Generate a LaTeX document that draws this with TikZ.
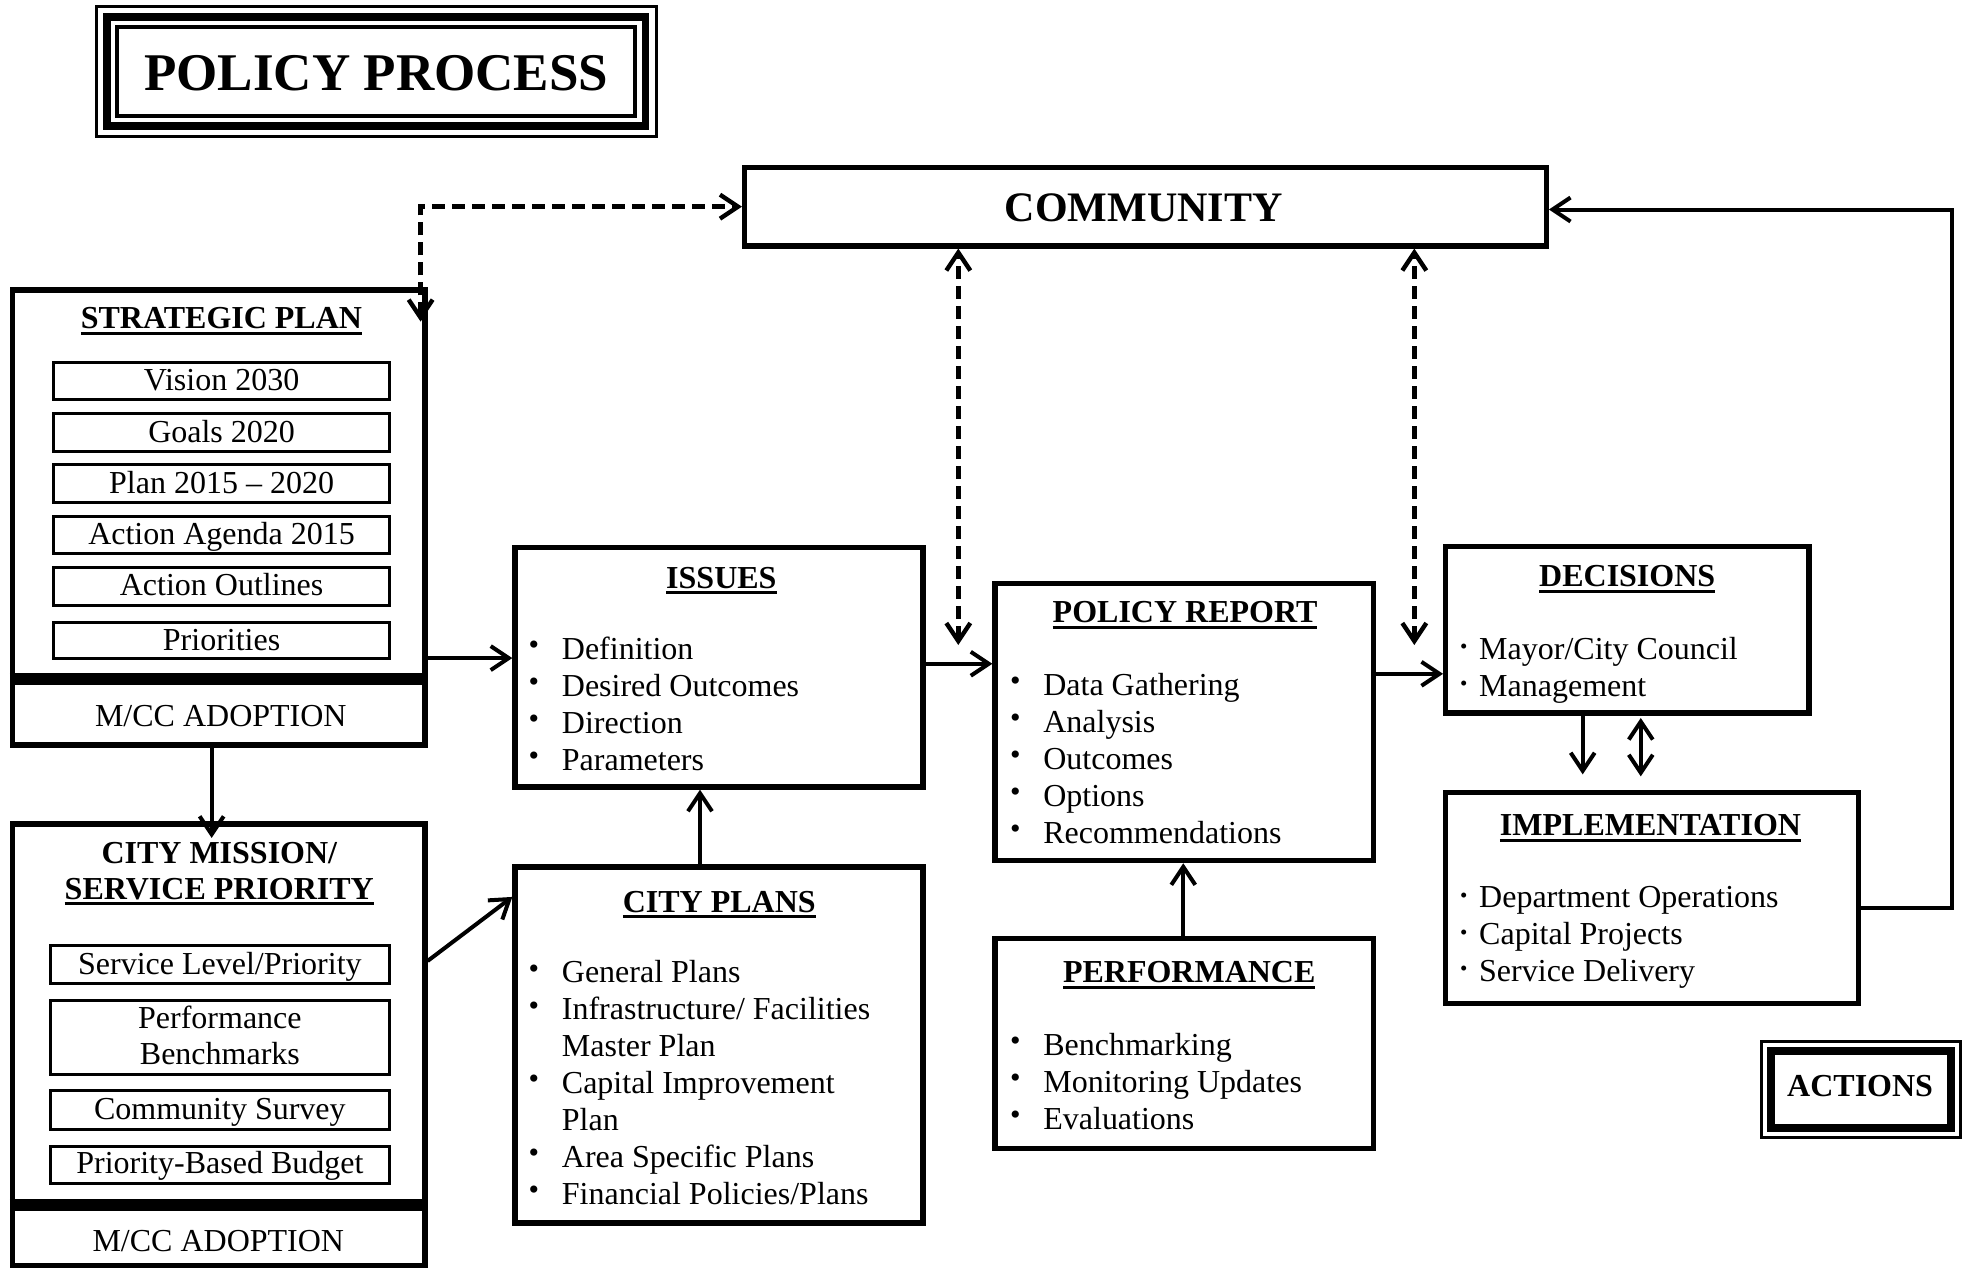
\documentclass[tikz,border=0pt]{standalone}
\usepackage{fontspec}
\setmainfont{Liberation Serif}
\usetikzlibrary{arrows.meta,fit}

% underlined heading text
\newcommand\ulin[1]{\setbox0\hbox{#1}\rlap{\rule[-3.1pt]{\wd0}{1.5pt}}\box0}
% list bullets: a larger one and a small raised one
\newcommand\bulA{\raisebox{2.4pt}{\fontsize{15}{15}\selectfont •}}
\newcommand\bulB{\raisebox{2.8pt}{\fontsize{10.5}{11}\selectfont •}}
\newcommand\bi{\makebox[14pt][l]{\makebox[0pt][c]{\bulA}}}
\newcommand\bn{\makebox[14pt][l]{}}
\newcommand\bk{\makebox[7.7pt][l]{\makebox[0pt][c]{\bulB}}}

\begin{document}
\begin{tikzpicture}[x=0.62916pt, y=-0.62916pt,
  frame/.style={draw, line width=2.7pt, inner sep=0pt},
  subframe/.style={draw, line width=1.5pt, inner sep=0pt},
  body/.style={inner sep=0pt, font=\fontsize{16}{18.45}\selectfont},
  head/.style={inner sep=0pt, font=\fontsize{16}{18.45}\selectfont\bfseries},
  tip/.style={Straight Barb[length=9pt,width=12pt]},
  arr/.style={line width=2pt, -{Straight Barb[length=9pt,width=12pt]}},
  dblarr/.style={line width=2pt, {Straight Barb[length=9pt,width=12pt]}-{Straight Barb[length=9pt,width=12pt]}},
  dasharr/.style={line width=2.2pt, dash pattern=on 6.5pt off 3.5pt,
    {Straight Barb[length=9pt,width=12pt]}-{Straight Barb[length=9pt,width=12pt]}}]
\useasboundingbox (0,0) rectangle (1568,1009);

\newcommand\itembox[5]{%
  \node[subframe, fit={(\bxA,#2) (\bxB,#3)}] (#1) {};
  \node[body, anchor=base] (#1T) at (#1.center |- 0,#4) {#5};}

% ---- heading frame
\node[fit={(76.7,5.2) (521.4,108.6)}, draw, line width=1.5pt, inner sep=0pt] (ttlOuter) {};
\draw[line width=3.8pt] (85.0,13.5) rectangle (513.1,100.3);
\draw[line width=2pt] (93.2,21.7) rectangle (504.9,92.1);
\node[anchor=base, inner sep=0pt, font=\fontsize{26.5}{30}\selectfont\bfseries] (ttl) at (299,72) {POLICY PROCESS};

% ---- community
\node[frame, fit={(591.8,133.1) (1228.8,195.4)}] (comm) {};
\node[anchor=base, inner sep=0pt, font=\fontsize{21}{24}\selectfont\bfseries] (commT) at (908.9,176.2) {COMMUNITY};

% ---- strategic plan
\node[frame, fit={(10,230.5) (337.7,539.6)}] (strat) {};
\node[frame, fit={(10,539.6) (337.7,592)}] (mccA) {};
\draw[line width=6pt] (7.9,539.6) -- (339.8,539.6);
\node[head, anchor=base] (stratH) at (176,261) {\ulin{STRATEGIC PLAN}};
\def\bxA{42.7}\def\bxB{309.5}
\itembox{vision}{287.8}{317.5}{310}{Vision 2030}
\itembox{goals}{328.4}{358.6}{351.8}{Goals 2020}
\itembox{plan}{368.9}{399.1}{392.1}{Plan 2015 – 2020}
\itembox{agenda}{410.2}{439.9}{433.1}{Action Agenda 2015}
\itembox{outlines}{450.7}{481}{472.9}{Action Outlines}
\itembox{prio}{494.5}{523.7}{516.6}{Priorities}
\node[body, anchor=base] (mccAT) at (175.5,577.5) {M/CC ADOPTION};

% ---- city mission / service priority
\node[frame, fit={(10,654.9) (337.7,957.3)}] (cm) {};
\node[frame, fit={(10,957.3) (337.7,1005.7)}] (mccB) {};
\draw[line width=6pt] (7.9,957.3) -- (339.8,957.3);
\node[head, anchor=base] (cmH1) at (174.3,686) {CITY MISSION/};
\node[head, anchor=base] (cmH2) at (174.3,714.6) {\ulin{SERVICE PRIORITY}};
\def\bxA{40}\def\bxB{309.5}
\itembox{slp}{751.1}{781.4}{774.5}{Service Level/Priority}
\itembox{pbm}{794.8}{853.8}{817.4}{\begin{tabular}[t]{@{}c@{}}Performance\\[-0.6pt]Benchmarks\end{tabular}}
\itembox{csurvey}{866.9}{897.5}{889.8}{Community Survey}
\itembox{pbb}{910.9}{940.7}{932.6}{Priority-Based Budget}
\node[body, anchor=base] (mccBT) at (173.5,994.2) {M/CC ADOPTION};

% ---- issues
\node[frame, fit={(409.3,435.3) (733.5,625.4)}] (issues) {};
\node[head, anchor=base] (issuesH) at (573.3,467.5) {\ulin{ISSUES}};
\node[body, anchor=base west] (issuesL) at (424,524) {\begin{tabular}[t]{@{}l@{}}
  \bi Definition\\ \bi Desired Outcomes\\ \bi Direction\\ \bi Parameters\end{tabular}};

% ---- city plans
\node[frame, fit={(409.3,689) (733.5,972)}] (cp) {};
\node[head, anchor=base] (cpH) at (571.6,725) {\ulin{CITY PLANS}};
\node[body, anchor=base west] (cpL) at (424,781.2) {\begin{tabular}[t]{@{}l@{}}
  \bi General Plans\\ \bi Infrastructure/ Facilities\\ \bn Master Plan\\
  \bi Capital Improvement\\ \bn Plan\\ \bi Area Specific Plans\\
  \bi Financial Policies/Plans\end{tabular}};

% ---- policy report
\node[frame, fit={(790.8,463.8) (1091.4,683.9)}] (pr) {};
\node[head, anchor=base] (prH) at (941.8,494.8) {\ulin{POLICY REPORT}};
\node[body, anchor=base west] (prL) at (806.6,552.8) {\begin{tabular}[t]{@{}l@{}}
  \bi Data Gathering\\ \bi Analysis\\ \bi Outcomes\\ \bi Options\\
  \bi Recommendations\end{tabular}};

% ---- performance
\node[frame, fit={(790.8,746) (1091.4,912.5)}] (perf) {};
\node[head, anchor=base] (perfH) at (945.1,781) {\ulin{PERFORMANCE}};
\node[body, anchor=base west] (perfL) at (806.6,838.8) {\begin{tabular}[t]{@{}l@{}}
  \bi Benchmarking\\ \bi Monitoring Updates\\ \bi Evaluations\end{tabular}};

% ---- decisions
\node[frame, fit={(1149,434.5) (1437.5,566.5)}] (dec) {};
\node[head, anchor=base] (decH) at (1293.2,466.1) {\ulin{DECISIONS}};
\node[body, anchor=base west] (decL) at (1163,524.1) {\begin{tabular}[t]{@{}l@{}}
  \bk Mayor/City Council\\ \bk Management\end{tabular}};

% ---- implementation
\node[frame, fit={(1149,630) (1477.2,797.5)}] (impl) {};
\node[head, anchor=base] (implH) at (1311.7,664.3) {\ulin{IMPLEMENTATION}};
\node[body, anchor=base west] (implL) at (1163,721.4) {\begin{tabular}[t]{@{}l@{}}
  \bk Department Operations\\ \bk Capital Projects\\ \bk Service Delivery\end{tabular}};

% ---- actions frame
\node[fit={(1400,827.7) (1557.7,904)}, draw, line width=1.5pt, inner sep=0pt] (actOuter) {};
\draw[line width=4pt] (1407.6,835.3) rectangle (1550.6,896.1);
\node[head, anchor=base] (act) at (1478.3,871.5) {ACTIONS};

% ---- solid connectors
\draw[arr] (strat.east |- 0,523) -- (issues.west |- 0,523);
\draw[arr] (cm.east |- 0,763.7) -- (cp.west |- 0,712.8);
\coordinate (cmTip) at (168.2,665.9);
\draw[arr] (mccA.south -| cmTip) -- (cmTip);
\draw[arr] (cp.north -| 556.3,0) -- (issues.south -| 556.3,0);
\draw[arr] (issues.east |- 0,527.5) -- (pr.west |- 0,527.5);
\draw[arr] (perf.north -| 940.4,0) -- (pr.south -| 940.4,0);
\draw[arr] (pr.east |- 0,535.5) -- (dec.west |- 0,535.5);
\coordinate (decTip) at (1257.8,615.4);
\draw[arr] (dec.south -| decTip) -- (decTip);
\coordinate (dblA) at (1304,570.6);
\coordinate (dblB) at (1304,617);
\draw[dblarr] (dblA) -- (dblB);
\coordinate (loopCorner) at (1551.5,166.5);
\draw[arr] (impl.east |- 0,721.4) -| (loopCorner) -- (comm.east |- loopCorner);

% ---- dashed connectors
\coordinate (spTip) at (334.3,255.6);
\draw[dasharr] (spTip) |- (comm.west);
\coordinate (dA) at (761.6,512.6);
\draw[dasharr] (dA) -- (comm.south -| dA);
\coordinate (dB) at (1124,512.6);
\draw[dasharr] (dB) -- (comm.south -| dB);
\end{tikzpicture}
\end{document}
